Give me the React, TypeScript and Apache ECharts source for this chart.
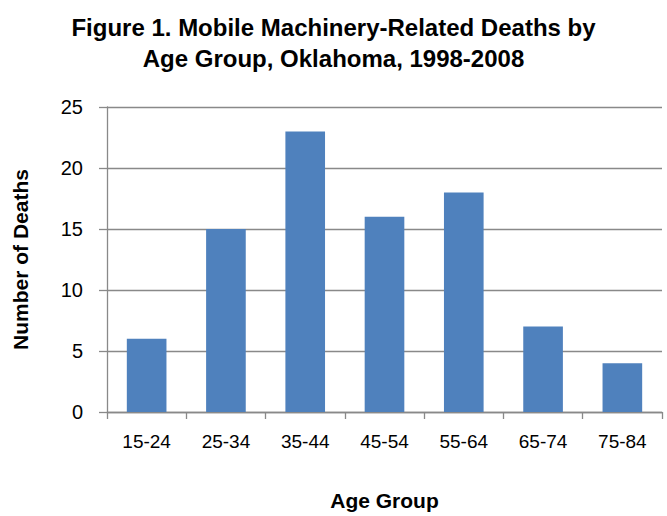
import React, { useEffect, useRef } from "react";
import * as echarts from "echarts";

const categories = ["15-24", "25-34", "35-44", "45-54", "55-64", "65-74", "75-84"];
const deaths = [6, 15, 23, 16, 18, 7, 4];
const titleLines = ["Figure 1. Mobile Machinery-Related Deaths by", "Age Group, Oklahoma, 1998-2008"];

const FONT = "'Liberation Sans Narrow', 'Arial Narrow', 'Liberation Sans', sans-serif";

export default function App() {
  const ref = useRef<HTMLDivElement>(null);
  useEffect(() => {
    if (!ref.current) return;
    const chart = echarts.init(ref.current, null, { renderer: "svg" });
    chart.setOption({
      animation: false,
      backgroundColor: "#ffffff",
      title: {
        text: titleLines.join("\n"),
        left: "center",
        top: 7,
        textStyle: {
          fontFamily: FONT,
          fontWeight: "bold",
          fontSize: 24,
          lineHeight: 31,
          color: "#000000",
        },
      },
      grid: { left: 107, right: 5, top: 107, bottom: 104, containLabel: false, outerBoundsMode: "none" },
      xAxis: {
        type: "category",
        data: categories,
        name: "Age Group",
        nameLocation: "middle",
        nameGap: 78,
        nameTextStyle: { fontFamily: FONT, fontWeight: "bold", fontSize: 21, color: "#000" },
        axisLine: { lineStyle: { color: "#898989", width: 1.3 } },
        axisTick: { show: true, length: 7, alignWithLabel: false, lineStyle: { color: "#898989", width: 1.3 } },
        axisLabel: { fontFamily: FONT, fontSize: 19, color: "#000", margin: 20 },
      },
      yAxis: {
        type: "value",
        min: 0,
        max: 25,
        interval: 5,
        name: "Number of Deaths",
        nameLocation: "middle",
        nameGap: 76,
        nameTextStyle: { fontFamily: FONT, fontWeight: "bold", fontSize: 21, color: "#000" },
        axisLine: { show: true, lineStyle: { color: "#898989", width: 1.3 } },
        axisTick: { show: true, length: 8, lineStyle: { color: "#898989", width: 1.3 } },
        axisLabel: { fontFamily: FONT, fontSize: 20, color: "#000", margin: 24 },
        splitLine: { show: true, lineStyle: { color: "#898989", width: 1.3 } },
      },
      series: [
        {
          type: "bar",
          data: deaths,
          barWidth: "50%",
          itemStyle: { color: "#4F81BD" },
        },
      ],
    });
    return () => chart.dispose();
  }, []);
  return <div ref={ref} style={{ width: 667, height: 516, position: "absolute", left: 0, top: 0 }} />;
}
